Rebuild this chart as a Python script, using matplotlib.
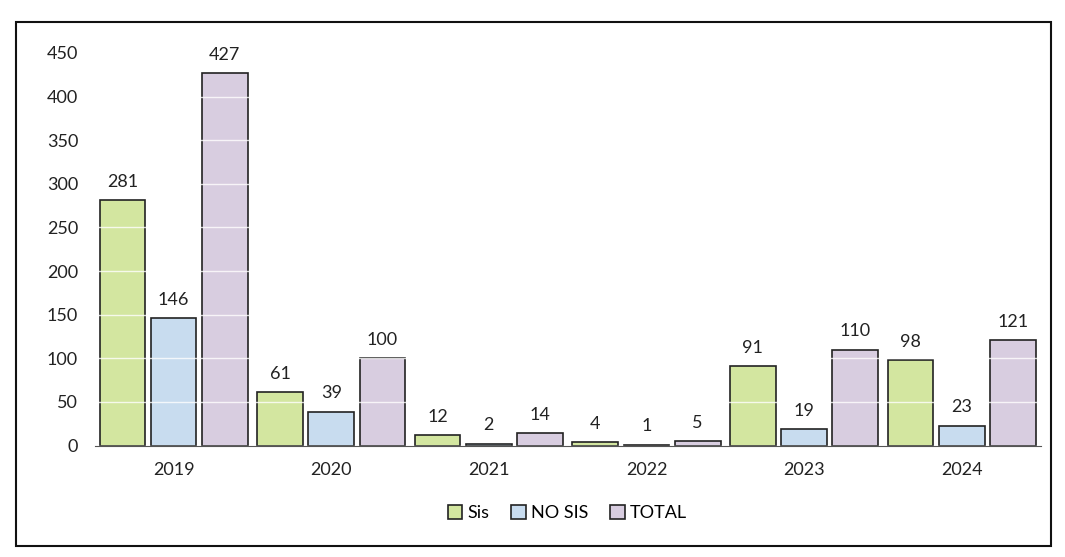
import matplotlib.pyplot as plt
import numpy as np
from matplotlib.patches import Rectangle

plt.rcParams['font.family'] = ['Lato', 'DejaVu Sans']

years = ['2019', '2020', '2021', '2022', '2023', '2024']
sis = [281, 61, 12, 4, 91, 98]
no_sis = [146, 39, 2, 1, 19, 23]
total = [427, 100, 14, 5, 110, 121]

series = [('Sis', sis, '#d3e6a0'),
          ('NO SIS', no_sis, '#c8dcef'),
          ('TOTAL', total, '#d8cde0')]

fig = plt.figure(figsize=(10.65, 5.57), dpi=100)
ax = fig.add_axes([0.089, 0.2, 0.888, 0.705])

x = np.arange(len(years))
w = 0.29
for i, (name, vals, col) in enumerate(series):
    pos = x + (i - 1) * (w + 0.035)
    bars = ax.bar(pos, vals, w, color=col, edgecolor='#222222',
                  linewidth=1.2, label=name, zorder=2)
    for b, v in zip(bars, vals):
        ax.text(b.get_x() + b.get_width() / 2, v + 12, str(v),
                ha='center', va='bottom', fontsize=13, color='#222222')

ax.set_ylim(0, 450)
ax.set_xlim(-0.5, len(years) - 0.5)
ax.set_yticks(range(0, 451, 50))
ax.set_xticks(x)
ax.set_xticklabels(years)
ax.tick_params(axis='y', length=0, labelsize=13, colors='#222222', pad=12)
ax.tick_params(axis='x', length=0, labelsize=13, colors='#222222', pad=12)
for s in ['top', 'right', 'left']:
    ax.spines[s].set_visible(False)
ax.spines['bottom'].set_color('#555555')
ax.yaxis.grid(True, color='white', linewidth=1.0, alpha=0.8, zorder=3)
ax.set_axisbelow(False)

ax.legend(loc='upper center', bbox_to_anchor=(0.5, -0.11), ncol=3,
          frameon=False, fontsize=13, handlelength=0.8, handleheight=0.8,
          handletextpad=0.3, columnspacing=1.2)

fig.patches.append(Rectangle((0.015, 0.02), 0.972, 0.94, transform=fig.transFigure,
                             fill=False, edgecolor='#111111', linewidth=1.5))

fig.savefig('out.png', dpi=100)
